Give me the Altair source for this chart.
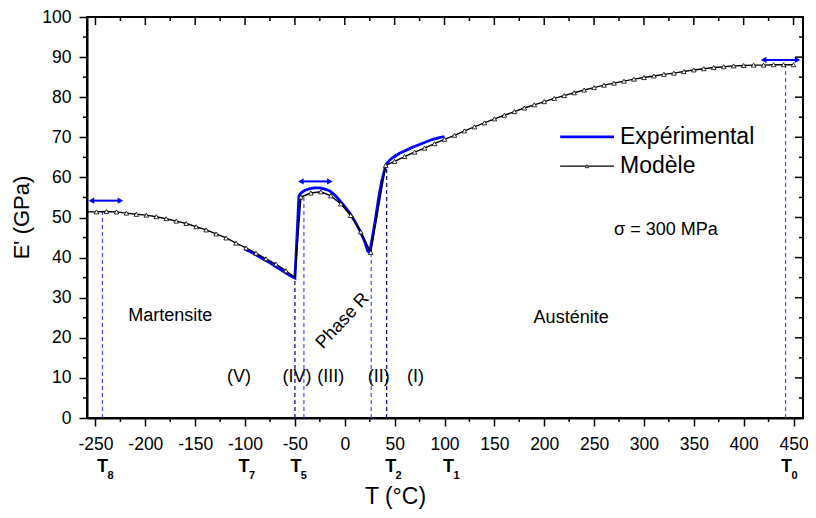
import altair as alt
import pandas as pd

# ---------------- data ----------------
model_T = [-258, -249, -239, -229, -219, -209, -199, -189, -179, -169, -159, -149, -139, -129,
           -119, -109, -99, -89, -79, -69, -59, -50,
           -44, -34, -24, -14, -4, 6, 16, 26,
           41, 50, 60, 70, 80, 90, 100, 110, 120, 130, 140, 150, 160, 170, 180, 190, 200,
           210, 220, 230, 240, 250, 260, 270, 280, 290, 300, 310, 320, 330, 340, 350, 360,
           370, 380, 390, 400, 410, 420, 430, 440, 450]
model_E = [51.4, 51.4, 51.5, 51.4, 51.1, 50.8, 50.6, 50.2, 49.7, 49.1, 48.5, 47.7, 46.9, 45.9,
           44.9, 43.6, 42.4, 41.1, 39.7, 38.4, 36.7, 35.1,
           55.1, 56.1, 56.4, 55.4, 53.4, 50.5, 46.4, 41.3,
           63.0, 64.0, 65.2, 66.3, 67.3, 68.4, 69.5, 70.5, 71.6, 72.6, 73.6, 74.6, 75.5, 76.4,
           77.3, 78.1, 78.9, 79.7, 80.4, 81.1, 81.8, 82.4, 83.0, 83.5, 84.0, 84.5, 84.9, 85.3,
           85.7, 86.0, 86.4, 86.8, 87.1, 87.4, 87.6, 87.8, 87.9, 88.0, 88.0, 88.1, 88.1, 88.1]
model_mark = [0] + [1] * 20 + [0] + [1] * (len(model_T) - 22)

exp_T = [-100, -95, -90, -85, -80, -75, -70, -65, -60, -55, -50, -48, -46, -44, -40, -35, -30,
         -25, -20, -15, -10, -5, 0, 5, 10, 15, 20, 23, 25, 28, 31, 34, 37, 40, 42, 45, 48, 55,
         60, 66, 70, 75, 80, 85, 90, 95, 100]
exp_E = [42.1, 41.5, 40.8, 40.1, 39.4, 38.7, 37.9, 37.1, 36.3, 35.5, 34.9, 45.0, 55.3, 56.1,
         56.8, 57.2, 57.4, 57.4, 57.1, 56.6, 55.6, 54.2, 52.7, 51.1, 49.1, 46.8, 44.0, 41.6,
         41.3, 45.5, 50.0, 55.0, 59.0, 62.0, 63.4, 64.3, 64.9, 66.0, 66.6, 67.3, 67.7, 68.2,
         68.7, 69.2, 69.6, 69.9, 70.2]

x_major = list(range(-250, 451, 50))
x_minor = list(range(-225, 451, 50))
y_major = list(range(0, 101, 10))
y_minor = list(range(5, 100, 10))

region_text = ["Martensite", "Austénite"]
region_T = [-175, 227]
region_E = [25.4, 24.9]

domain_text = ["(V)", "(IV)", "(III)", "(II)", "(I)"]
domain_T = [-106, -48, -14, 34, 71]
domain_E = [10.2, 10.2, 10.2, 10.2, 10.2]

phase_text = ["Phase R"]
phase_T = [-2]
phase_E = [24.2]

trans_sub = ["8", "7", "5", "2", "1", "0"]
trans_T = [-243, -101, -49, 46, 104, 443]

dash_T = [-243, -41, 26.5, 442]
dash_E = [51.4, 55.5, 41.3, 88.0]
dashdark_T = [-50, 42]
dashdark_E = [35.1, 63.0]

arrow_T1 = [-254, -44, 420]
arrow_T2 = [-225, -15, 454]
arrow_E = [54.2, 59.0, 89.3]

legend_names = ["Expérimental", "Modèle"]
legend_E = [70.1, 62.8]

sigma_text = ["σ = 300 MPa"]

FONT = "Liberation Sans"
XMIN, XMAX = -258.5, 459.5
W, H = 716, 401
PX_E = 100 / H                 # E units per pixel
PX_T = (XMAX - XMIN) / W       # T units per pixel

xscale = alt.Scale(domain=[XMIN, XMAX], nice=False, zero=False)
yscale = alt.Scale(domain=[0, 100], nice=False, zero=False)


def X(f="T"):
    return alt.X(f"{f}:Q", scale=xscale)


def Y(f="E"):
    return alt.Y(f"{f}:Q", scale=yscale)


model = pd.DataFrame({"T": model_T, "E": model_E, "m": model_mark})
exp = pd.DataFrame({"T": exp_T, "E": exp_E})

xaxis = alt.Axis(values=x_major, tickSize=8, labelExpr="'' + datum.value",
                 labelFontSize=17.5, labelPadding=9, labelOverlap=False, labelFlush=False,
                 title="T (°C)", titleFontSize=23, titleFontWeight="normal",
                 titleX=308, titleY=78, titleBaseline="middle", titleAlign="center",
                 grid=False, domainColor="black", domainWidth=2, tickColor="black",
                 tickWidth=1.5, labelColor="black", labelFont=FONT, titleFont=FONT,
                 titleColor="black")
yaxis = alt.Axis(values=y_major, tickSize=8, labelExpr="'' + datum.value",
                 labelFontSize=17.5, labelPadding=8, labelOverlap=False, labelFlush=False,
                 title="E' (GPa)", titleFontSize=22, titleFontWeight="normal",
                 titleX=-66, titleY=200, titleAngle=270, titleBaseline="middle",
                 titleAlign="center", grid=False, domainColor="black", domainWidth=2,
                 tickColor="black", tickWidth=1.5, labelColor="black", labelFont=FONT,
                 titleFont=FONT, titleColor="black")

exp_line = alt.Chart(exp).mark_line(color="#0000ff", strokeWidth=2.8).encode(
    x=alt.X("T:Q", scale=xscale, axis=xaxis),
    y=alt.Y("E:Q", scale=yscale, axis=yaxis))

model_line = alt.Chart(model).mark_line(color="black", strokeWidth=1.4).encode(x=X(), y=Y())
model_pts = alt.Chart(model).transform_filter("datum.m == 1").mark_point(
    shape="triangle-up", size=22, filled=True, fill="white", stroke="black",
    strokeWidth=0.8, opacity=1).encode(x=X(), y=Y())

# dashed verticals
dash = alt.Chart(pd.DataFrame({"T": dash_T, "E": dash_E})).mark_rule(
    color="#4a4aff", strokeWidth=1.2, strokeDash=[4, 3]).encode(
    x=X(), y=Y("z"), y2="E:Q").transform_calculate(z="0")
dashdark = alt.Chart(pd.DataFrame({"T": dashdark_T, "E": dashdark_E})).mark_rule(
    color="#00008c", strokeWidth=1.2, strokeDash=[4, 3]).encode(
    x=X(), y=Y("z"), y2="E:Q").transform_calculate(z="0")

# arrows
arr_df = pd.DataFrame({"T1": arrow_T1, "T2": arrow_T2, "E": arrow_E})
arr_rule = alt.Chart(arr_df).mark_rule(color="#0000ff", strokeWidth=2).encode(
    x=X("T1"), x2="T2:Q", y=Y())
arr_l = alt.Chart(arr_df).mark_point(shape="triangle-left", size=40, filled=True,
                                     color="#0000ff", opacity=1).encode(x=X("T1"), y=Y())
arr_r = alt.Chart(arr_df).mark_point(shape="triangle-right", size=40, filled=True,
                                     color="#0000ff", opacity=1).encode(x=X("T2"), y=Y())

# minor ticks (outside) and inner ticks on top / right
xm = pd.DataFrame({"T": x_minor})
ym = pd.DataFrame({"E": y_minor})
xM = pd.DataFrame({"T": x_major})
yM = pd.DataFrame({"E": y_major})
tick_style = dict(color="black", strokeWidth=1.5)

bot_minor = alt.Chart(xm).mark_rule(**tick_style).transform_calculate(
    a="0", b=f"{-4 * PX_E}").encode(x=X(), y=Y("a"), y2="b:Q")
left_minor = alt.Chart(ym).mark_rule(**tick_style).transform_calculate(
    a=f"{XMIN}", b=f"{XMIN - 4 * PX_T}").encode(y=Y(), x=X("a"), x2="b:Q")
top_major = alt.Chart(xM).mark_rule(**tick_style).transform_calculate(
    a="100", b=f"{100 - 8 * PX_E}").encode(x=X(), y=Y("a"), y2="b:Q")
top_minor = alt.Chart(xm).mark_rule(**tick_style).transform_calculate(
    a="100", b=f"{100 - 4 * PX_E}").encode(x=X(), y=Y("a"), y2="b:Q")
right_major = alt.Chart(yM).mark_rule(**tick_style).transform_calculate(
    a=f"{XMAX}", b=f"{XMAX - 8 * PX_T}").encode(y=Y(), x=X("a"), x2="b:Q")
right_minor = alt.Chart(ym).mark_rule(**tick_style).transform_calculate(
    a=f"{XMAX}", b=f"{XMAX - 4 * PX_T}").encode(y=Y(), x=X("a"), x2="b:Q")

# texts
txt = dict(font=FONT, color="black")
regions = alt.Chart(pd.DataFrame({"T": region_T, "E": region_E, "t": region_text})).mark_text(
    fontSize=18, align="center", baseline="middle", **txt).encode(x=X(), y=Y(), text="t:N")
domains = alt.Chart(pd.DataFrame({"T": domain_T, "E": domain_E, "t": domain_text})).mark_text(
    fontSize=18, align="center", baseline="middle", **txt).encode(x=X(), y=Y(), text="t:N")
phase = alt.Chart(pd.DataFrame({"T": phase_T, "E": phase_E, "t": phase_text})).mark_text(
    fontSize=18, align="center", baseline="middle", angle=313, **txt).encode(
    x=X(), y=Y(), text="t:N")
sigma = alt.Chart(pd.DataFrame({"T": [322], "E": [46.9], "t": sigma_text})).mark_text(
    fontSize=18, align="center", baseline="middle", **txt).encode(x=X(), y=Y(), text="t:N")

trans_df = pd.DataFrame({"T": trans_T, "s": trans_sub})
trans_T_txt = alt.Chart(trans_df).mark_text(
    fontSize=18, fontWeight="bold", align="center", baseline="middle", **txt).transform_calculate(
    E="-12.3", t="'T'").encode(x=X(), y=Y(), text="t:N")
trans_sub_txt = alt.Chart(trans_df).mark_text(
    fontSize=11, fontWeight="bold", align="center", baseline="middle", dx=8, **txt).transform_calculate(
    E="-14.5").encode(x=X(), y=Y(), text="s:N")

# legend
leg_df = pd.DataFrame({"t": legend_names, "E": legend_E,
                       "c": ["#0000ff", "black"], "w": [2.8, 1.4]})
leg_lines = alt.Chart(leg_df).mark_rule().transform_calculate(
    a="216", b="270").encode(x=X("a"), x2="b:Q", y=Y(),
                             color=alt.Color("c:N", scale=None),
                             strokeWidth=alt.StrokeWidth("w:Q", scale=None))
leg_pt = alt.Chart(leg_df).transform_filter("datum.t == 'Modèle'").transform_calculate(
    a="243").mark_point(shape="triangle-up", size=12, filled=True, fill="white",
                        stroke="black", strokeWidth=0.8, opacity=1).encode(x=X("a"), y=Y())
leg_txt = alt.Chart(leg_df).transform_calculate(a="276").mark_text(
    fontSize=23, align="left", baseline="middle", **txt).encode(x=X("a"), y=Y(), text="t:N")

chart = alt.layer(
    exp_line, dash, dashdark, model_line, model_pts, arr_rule, arr_l, arr_r,
    bot_minor, left_minor, top_major, top_minor, right_major, right_minor,
    regions, domains, phase, sigma, trans_T_txt, trans_sub_txt,
    leg_lines, leg_pt, leg_txt
).properties(
    width=W, height=H,
    autosize=alt.AutoSizeParams(type="none"),
    padding={"left": 79, "top": 9, "right": 5, "bottom": 92},
).configure_view(stroke="black", strokeWidth=2).configure_axis(grid=False)

chart.save("out.html", embed_options={"renderer": "svg", "actions": False})
